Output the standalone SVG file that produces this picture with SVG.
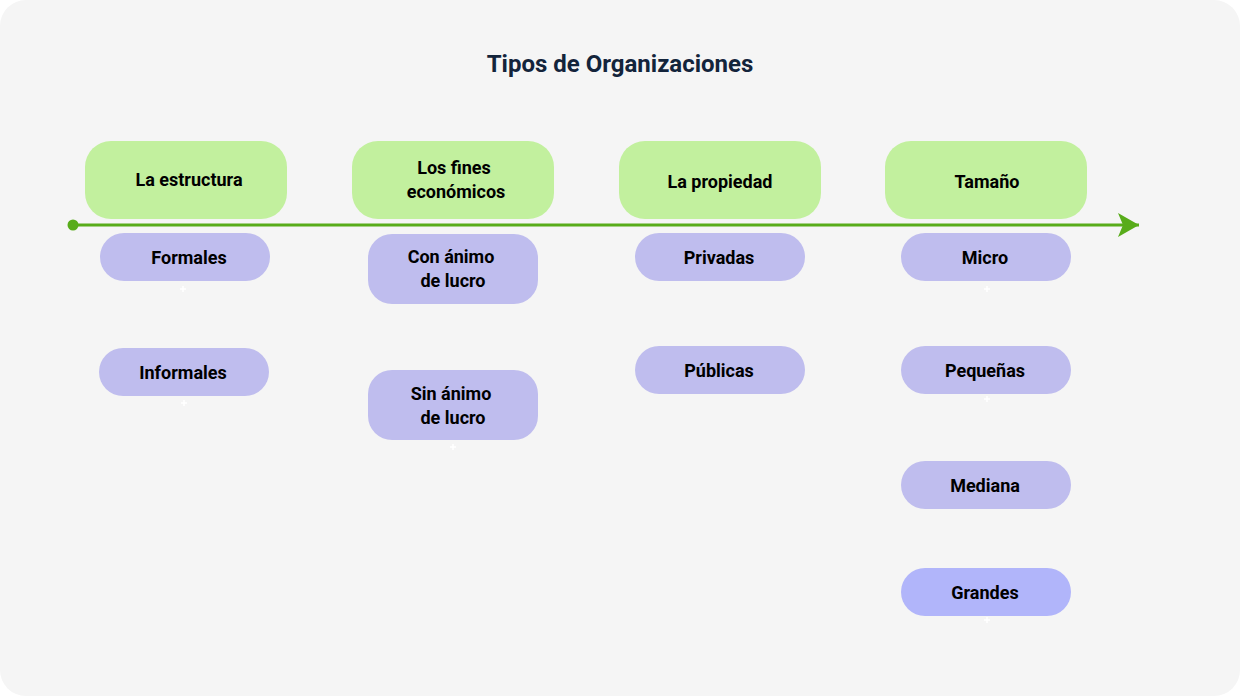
<svg xmlns="http://www.w3.org/2000/svg" width="1240" height="696" viewBox="0 0 1240 696">
<defs>
<style>
.cat rect{fill:#c2f09e}
.sub rect{fill:#bfbdee}
.t{font-family:Roboto,"Liberation Sans",sans-serif;font-weight:bold;font-size:18px;fill:#000;text-anchor:middle}
.plus{stroke:#fff;stroke-width:1.5}
</style>
<marker id="arr" viewBox="0 0 22 24" refX="21" refY="12" markerWidth="22" markerHeight="24" markerUnits="userSpaceOnUse" orient="auto">
<path d="M0,0 L21,12 L0,24 L5,12 Z" fill="#58ac1a"/>
</marker>
</defs>
<rect width="1240" height="696" fill="#ffffff"/>
<rect width="1240" height="696" rx="26" fill="#f5f5f5"/>
<text x="620" y="72" font-family="Roboto,'Liberation Sans',sans-serif" font-weight="bold" font-size="24" fill="#13243b" text-anchor="middle">Tipos de Organizaciones</text>
<g id="connectors">
<line x1="73" y1="225" x2="1139" y2="225" stroke="#58ac1a" stroke-width="3" marker-end="url(#arr)"/>
<circle cx="73" cy="225" r="5.5" fill="#58ac1a"/>
</g>
<g id="n-estructura" class="cat"><rect x="85" y="141" width="202" height="78" rx="26"/><text class="t" x="189" y="186">La estructura</text></g>
<g id="n-fines" class="cat"><rect x="352" y="141" width="202" height="78" rx="26"/><text class="t" x="454" y="174">Los fines</text><text class="t" x="456" y="198">económicos</text></g>
<g id="n-propiedad" class="cat"><rect x="619" y="141" width="202" height="78" rx="26"/><text class="t" x="720" y="188">La propiedad</text></g>
<g id="n-tamano" class="cat"><rect x="885" y="141" width="202" height="78" rx="26"/><text class="t" x="987" y="188">Tamaño</text></g>

<g id="n-formales" class="sub"><rect x="100" y="233" width="170" height="48" rx="24"/><text class="t" x="189" y="264">Formales</text></g>
<g id="n-informales" class="sub"><rect x="99" y="348" width="170" height="48" rx="24"/><text class="t" x="183" y="379">Informales</text></g>
<g id="n-con" class="sub"><rect x="368" y="234" width="170" height="70" rx="24"/><text class="t" x="451" y="263">Con ánimo</text><text class="t" x="453" y="287">de lucro</text></g>
<g id="n-sin" class="sub"><rect x="368" y="370" width="170" height="70" rx="24"/><text class="t" x="451" y="400">Sin ánimo</text><text class="t" x="453" y="424">de lucro</text></g>
<g id="n-privadas" class="sub"><rect x="635" y="233" width="170" height="48" rx="24"/><text class="t" x="719" y="264">Privadas</text></g>
<g id="n-publicas" class="sub"><rect x="635" y="346" width="170" height="48" rx="24"/><text class="t" x="719" y="377">Públicas</text></g>
<g id="n-micro" class="sub"><rect x="901" y="233" width="170" height="48" rx="24"/><text class="t" x="985" y="264">Micro</text></g>
<g id="n-pequenas" class="sub"><rect x="901" y="346" width="170" height="48" rx="24"/><text class="t" x="985" y="377">Pequeñas</text></g>
<g id="n-mediana" class="sub"><rect x="901" y="461" width="170" height="48" rx="24"/><text class="t" x="985" y="492">Mediana</text></g>
<g id="n-grandes"><rect x="901" y="568" width="170" height="48" rx="24" fill="#b1b5fa"/><text class="t" x="985" y="599">Grandes</text></g>

<g id="marks" class="plus">
<path d="M183,286v6M180,289h6"/>
<path d="M184,400v6M181,403h6"/>
<path d="M453,444v6M450,447h6"/>
<path d="M987,286v6M984,289h6"/>
<path d="M987,396v6M984,399h6"/>
<path d="M987,617v6M984,620h6"/>
</g>
</svg>
